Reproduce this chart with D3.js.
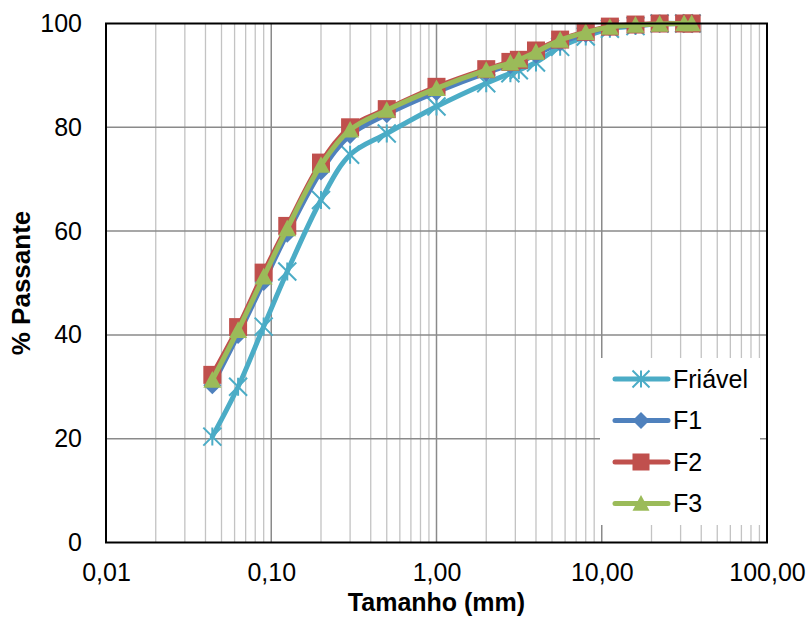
<!DOCTYPE html>
<html><head><meta charset="utf-8">
<script src="https://cdn.jsdelivr.net/npm/d3@7/dist/d3.min.js"></script>
<style>
html,body{margin:0;padding:0;background:#fff;}
text{font-family:"Liberation Sans",Arial,sans-serif;}
</style></head>
<body><svg id="c" width="811" height="619"></svg>
<script>
const sizes   = [0.044, 0.063, 0.09, 0.125, 0.2, 0.3, 0.5, 1.0, 2.0, 2.8, 3.15, 4.0, 5.6, 8.0, 11.2, 16, 22.4, 31.5, 35];
const friavel = [20.4, 30.0, 41.6, 52.2, 66.0, 74.7, 78.8, 84.0, 88.5, 90.4, 91.0, 92.5, 95.5, 97.5, 99.0, 99.5, 100, 100, 100];
const f1      = [30.3, 40.0, 50.2, 59.5, 71.5, 78.5, 82.5, 86.8, 90.5, 92.0, 92.5, 94.0, 96.3, 98.0, 99.2, 99.6, 99.9, 100, 100];
const f2      = [32.3, 41.5, 52.0, 61.0, 73.2, 80.0, 83.5, 87.8, 91.2, 92.6, 93.0, 94.8, 96.9, 98.4, 99.4, 99.8, 100, 100, 100];
const f3      = [31.3, 40.9, 51.2, 60.5, 72.7, 79.5, 83.3, 87.5, 91.0, 92.4, 93.0, 94.5, 96.8, 98.3, 99.3, 99.7, 99.9, 100, 100];
const seriesNames = ["Friável", "F1", "F2", "F3"];
const xTickValues = [0.01, 0.1, 1, 10, 100];
const yTickValues = [0, 20, 40, 60, 80, 100];
const xTitle = "Tamanho (mm)";
const yTitle = "% Passante";

const colors = ["#4BACC6", "#4F81BD", "#C0504D", "#9BBB59"];
const markers = ["star", "diamond", "square", "triangle"];
const seriesVals = [friavel, f1, f2, f3];

const L = 106, R = 767, T = 23.5, B = 542.5;
const svg = d3.select("#c");
const x = d3.scaleLog().domain([0.01, 100]).range([L, R]);
const y = d3.scaleLinear().domain([0, 100]).range([B, T]);

// grid
const allX = x.ticks();
const g = svg.append("g");
g.selectAll("line.minor").data(allX.filter(v => Math.abs(Math.log10(v) - Math.round(Math.log10(v))) > 1e-6))
  .enter().append("line")
  .attr("x1", d => x(d)).attr("x2", d => x(d)).attr("y1", T).attr("y2", B)
  .attr("stroke", "#c3c3c3").attr("stroke-width", 1.3);
g.selectAll("line.major").data(xTickValues.slice(1, -1))
  .enter().append("line")
  .attr("x1", d => x(d)).attr("x2", d => x(d)).attr("y1", T).attr("y2", B)
  .attr("stroke", "#8a8a8a").attr("stroke-width", 1.5);
g.selectAll("line.hy").data(yTickValues.slice(1, -1))
  .enter().append("line")
  .attr("x1", L).attr("x2", R).attr("y1", d => y(d)).attr("y2", d => y(d))
  .attr("stroke", "#8a8a8a").attr("stroke-width", 1.5);

// axes labels
const fmt = v => d3.format(".2f")(v).replace(".", ",");
const xa = svg.append("g").attr("transform", `translate(0,${B})`)
  .call(d3.axisBottom(x).tickValues(xTickValues).tickFormat(fmt).tickSize(0).tickPadding(21));
xa.select(".domain").remove();
xa.selectAll("text").attr("font-size", 25).attr("fill", "#000")
  .style("font-family", '"Liberation Sans",Arial,sans-serif');
const ya = svg.append("g").attr("transform", `translate(${L},0)`)
  .call(d3.axisLeft(y).tickValues(yTickValues).tickSize(0).tickPadding(24));
ya.select(".domain").remove();
ya.selectAll("text").attr("font-size", 25).attr("fill", "#000")
  .style("font-family", '"Liberation Sans",Arial,sans-serif');

svg.append("text").attr("x", (L + R) / 2).attr("y", 611).attr("text-anchor", "middle")
  .attr("font-size", 25).attr("font-weight", "bold").text(xTitle);
svg.append("text").attr("transform", `translate(30,${(T + B) / 2}) rotate(-90)`)
  .attr("text-anchor", "middle").attr("font-size", 26).attr("font-weight", "bold").text(yTitle);

// markers
function marker(sel, type, color, s) {
  const h = s / 2;
  if (type === "star") {
    sel.append("path").attr("d", `M${-h},${-h}L${h},${h}M${-h},${h}L${h},${-h}M0,${-h}L0,${h}`)
      .attr("stroke", color).attr("stroke-width", 2).attr("fill", "none");
  } else if (type === "diamond") {
    sel.append("path").attr("d", `M0,${-h}L${h},0L0,${h}L${-h},0Z`).attr("fill", color);
  } else if (type === "square") {
    sel.append("rect").attr("x", -h).attr("y", -h).attr("width", s).attr("height", s).attr("fill", color);
  } else {
    sel.append("path").attr("d", `M0,${-h}L${h},${h * 0.85}L${-h},${h * 0.85}Z`).attr("fill", color);
  }
}

const line = d3.line().curve(d3.curveCatmullRom.alpha(0.5)).x(d => x(d[0])).y(d => y(d[1]));
seriesVals.forEach((vals, i) => {
  const pts = sizes.map((s, k) => [s, vals[k]]);
  const sg = svg.append("g");
  sg.append("path").datum(pts).attr("d", line).attr("fill", "none")
    .attr("stroke", colors[i]).attr("stroke-width", 5).attr("stroke-linejoin", "round").attr("stroke-linecap", "round");
  pts.forEach(p => {
    const mg = sg.append("g").attr("transform", `translate(${x(p[0])},${y(p[1])})`);
    marker(mg, markers[i], colors[i], 18);
  });
});

// frame
svg.append("rect").attr("x", L).attr("y", T).attr("width", R - L).attr("height", B - T)
  .attr("fill", "none").attr("stroke", "#000").attr("stroke-width", 2);

// legend
const lg = svg.append("g");
lg.append("rect").attr("x", 600).attr("y", 358).attr("width", 160).attr("height", 167).attr("fill", "#fff");
seriesNames.forEach((n, i) => {
  const cy = 379 + i * 41.5;
  lg.append("line").attr("x1", 615).attr("x2", 668).attr("y1", cy).attr("y2", cy)
    .attr("stroke", colors[i]).attr("stroke-width", 5).attr("stroke-linecap", "round");
  const mg = lg.append("g").attr("transform", `translate(641,${cy})`);
  marker(mg, markers[i], colors[i], 17);
  lg.append("text").attr("x", 673).attr("y", cy).attr("dy", "0.35em").attr("font-size", 25).text(n);
});
</script></body></html>
